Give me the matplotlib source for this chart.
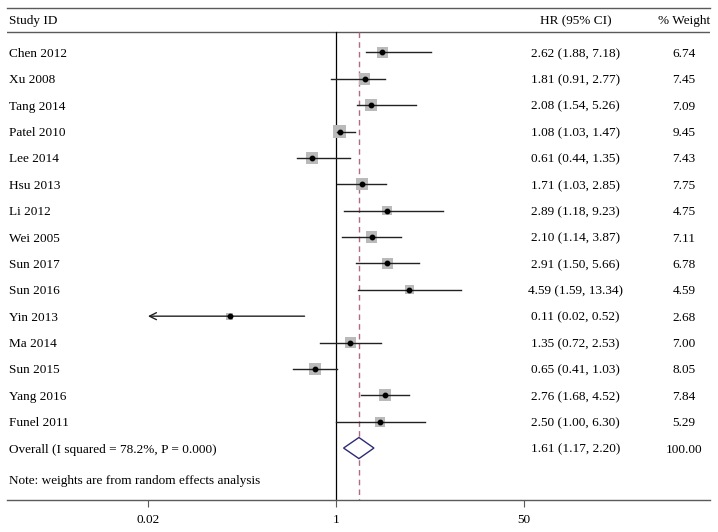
import numpy as np
import matplotlib.pyplot as plt
from matplotlib.patches import Polygon

studies = ['Chen 2012', 'Xu 2008', 'Tang 2014', 'Patel 2010', 'Lee 2014', 'Hsu 2013',
           'Li 2012', 'Wei 2005', 'Sun 2017', 'Sun 2016', 'Yin 2013', 'Ma 2014',
           'Sun 2015', 'Yang 2016', 'Funel 2011']
hr = [2.62, 1.81, 2.08, 1.08, 0.61, 1.71, 2.89, 2.10, 2.91, 4.59, 0.11, 1.35, 0.65, 2.76, 2.50]
lo = [1.88, 0.91, 1.54, 1.03, 0.44, 1.03, 1.18, 1.14, 1.50, 1.59, 0.02, 0.72, 0.41, 1.68, 1.00]
hi = [7.18, 2.77, 5.26, 1.47, 1.35, 2.85, 9.23, 3.87, 5.66, 13.34, 0.52, 2.53, 1.03, 4.52, 6.30]
weights = [6.74, 7.45, 7.09, 9.45, 7.43, 7.75, 4.75, 7.11, 6.78, 4.59, 2.68, 7.00, 8.05, 7.84, 5.29]

overall_label = 'Overall (I squared = 78.2%, P = 0.000)'
overall_hr, overall_lo, overall_hi, overall_w = 1.61, 1.17, 2.20, 100.00
note = 'Note: weights are from random effects analysis'
xticks = [0.02, 1, 50]
xticklabels = ['0.02', '1', '50']
axis_min = 0.02

plt.rcParams['font.family'] = ['Liberation Serif', 'DejaVu Serif']
fs = 9.5
line_gray = '#5a5a5a'
va = 'center_baseline'

fig = plt.figure(figsize=(7.18, 5.32), dpi=100)
ax = fig.add_axes([7 / 718, 32 / 532, 703 / 718, 492 / 532])
ax.set_xscale('log')
ax.set_xlim(10 ** -2.972, 10 ** 3.378)
ax.set_ylim(16.97, -1.685)

for s in ['left', 'right']:
    ax.spines[s].set_visible(False)
for s in ['top', 'bottom']:
    ax.spines[s].set_color(line_gray)
    ax.spines[s].set_linewidth(1.0)

ax.set_xticks(xticks)
ax.set_xticklabels(xticklabels, fontsize=9.5)
ax.minorticks_off()
ax.tick_params(axis='x', direction='out', length=5, width=0.8, color=line_gray, pad=5)
ax.set_yticks([])

rows = np.arange(len(studies))
n = len(studies)

# header
ax.axhline(-0.774, color=line_gray, lw=1.0)
tr = ax.get_yaxis_transform()
ax.text(0.003, -1.24, 'Study ID', transform=tr, fontsize=fs, va=va, ha='left')
ax.text(0.809, -1.24, 'HR (95% CI)', transform=tr, fontsize=fs, va=va, ha='center')
ax.text(0.963, -1.24, '% Weight', transform=tr, fontsize=fs, va=va, ha='center')

# reference lines
ax.plot([1, 1], [-0.774, 16.97], color='black', lw=0.9)
ax.plot([overall_hr, overall_hr], [-0.774, 16.97], color='#b06a82', lw=1.0,
        ls=(0, (4, 3)))

# studies
ax.scatter(hr, rows, s=np.array(weights) * 9.8, marker='s', color='#bababa', zorder=2,
           linewidths=0)
for i in range(n):
    if lo[i] <= axis_min:
        ax.annotate('', xy=(axis_min, rows[i]), xytext=(hi[i], rows[i]),
                    arrowprops=dict(arrowstyle='->,head_length=0.5,head_width=0.25',
                                    color='#222222', lw=1.0, shrinkA=0, shrinkB=0),
                    zorder=3)
    else:
        ax.plot([lo[i], hi[i]], [rows[i], rows[i]], color='#222222', lw=1.0, zorder=3)
    ax.text(0.003, rows[i], studies[i], transform=tr, fontsize=fs, va=va, ha='left')
    ax.text(0.809, rows[i], f'{hr[i]:.2f} ({lo[i]:.2f}, {hi[i]:.2f})', transform=tr,
            fontsize=fs, va=va, ha='center')
    ax.text(0.963, rows[i], f'{weights[i]:.2f}', transform=tr, fontsize=fs,
            va=va, ha='center')
ax.plot(hr, rows, 'o', color='black', ms=3.2, zorder=4)

# overall diamond
yo = n
diamond = Polygon([[overall_lo, yo], [overall_hr, yo - 0.4], [overall_hi, yo],
                   [overall_hr, yo + 0.4]], closed=True, facecolor='white',
                  edgecolor='#2e2a78', lw=1.0, zorder=3)
ax.add_patch(diamond)
ax.text(0.003, yo, overall_label, transform=tr, fontsize=fs, va=va, ha='left')
ax.text(0.809, yo, f'{overall_hr:.2f} ({overall_lo:.2f}, {overall_hi:.2f})', transform=tr,
        fontsize=fs, va=va, ha='center')
ax.text(0.963, yo, f'{overall_w:.2f}', transform=tr, fontsize=fs, va=va, ha='center')

ax.text(0.003, 16.18, note, transform=tr, fontsize=fs, va=va, ha='left')

plt.savefig('out.png', dpi=100)
